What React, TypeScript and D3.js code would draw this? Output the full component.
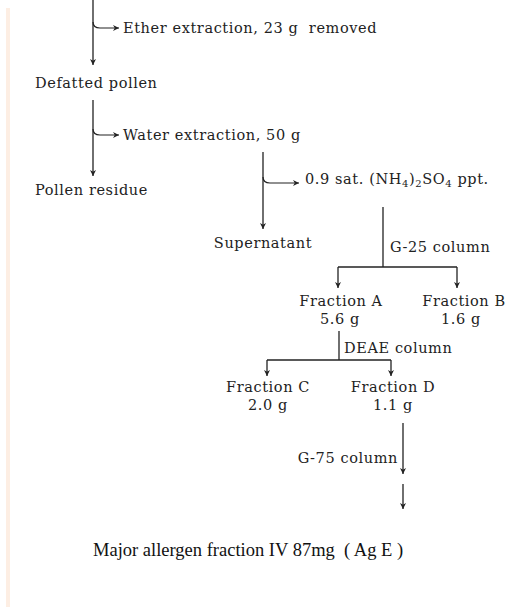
import { useEffect, useRef } from "react";
import * as d3 from "d3";

// ── Flow chart content ──
const products = ["Defatted pollen", "Pollen residue", "Supernatant"];
const extractions = ["Ether extraction, 23 g  removed", "Water extraction, 50 g"];
const precipitation = ["0.9 sat. (NH", "4", ")", "2", "SO", "4", " ppt."];
const columns = ["G-25 column", "DEAE column", "G-75 column"];
const fractions = ["Fraction A", "Fraction B", "Fraction C", "Fraction D"];
const yields = ["5.6 g", "1.6 g", "2.0 g", "1.1 g"];
const finalProduct = "Major allergen fraction IV 87mg  ( Ag E )";

const W = 507;
const H = 607;
const INK = "#222";
const FONT = "'DejaVu Serif', serif";
const SIZE = 14.5;
const SPACING = 0.6;

export default function App() {
  const svgRef = useRef<SVGSVGElement>(null);

  useEffect(() => {
    if (!svgRef.current) return;
    const svg = d3.select(svgRef.current);
    svg.selectAll("*").remove();

    svg
      .append("defs")
      .append("marker")
      .attr("id", "arrow")
      .attr("viewBox", "0 0 10 10")
      .attr("refX", 10)
      .attr("refY", 5)
      .attr("markerWidth", 6)
      .attr("markerHeight", 6)
      .attr("markerUnits", "userSpaceOnUse")
      .attr("orient", "auto")
      .append("path")
      .attr("d", "M0,0 L10,5 L0,10 L3,5 Z")
      .attr("fill", INK);

    svg.append("rect").attr("width", W).attr("height", H).attr("fill", "#fff");
    // faint scan edge on the left
    svg
      .append("rect")
      .attr("x", 6)
      .attr("y", 8)
      .attr("width", 4)
      .attr("height", H - 8)
      .attr("fill", "#fdeee3");

    const g = svg.append("g");

    const arrow = (x1: number, y1: number, x2: number, y2: number) =>
      g
        .append("line")
        .attr("x1", x1)
        .attr("y1", y1)
        .attr("x2", x2)
        .attr("y2", y2)
        .attr("stroke", INK)
        .attr("stroke-width", 1.3)
        .attr("marker-end", "url(#arrow)");

    const line = (x1: number, y1: number, x2: number, y2: number) =>
      g
        .append("line")
        .attr("x1", x1)
        .attr("y1", y1)
        .attr("x2", x2)
        .attr("y2", y2)
        .attr("stroke", INK)
        .attr("stroke-width", 1.3);

    // side branch: curls off a vertical trunk to the right
    const branch = (x: number, y: number, xEnd: number) =>
      g
        .append("path")
        .attr("d", `M${x},${y - 6} Q${x},${y} ${x + 7},${y} L${xEnd},${y}`)
        .attr("fill", "none")
        .attr("stroke", INK)
        .attr("stroke-width", 1.2)
        .attr("marker-end", "url(#arrow)");

    const label = (t: string, x: number, y: number, anchor: string = "start") =>
      g
        .append("text")
        .attr("x", x)
        .attr("y", y)
        .attr("dy", "0.35em")
        .attr("text-anchor", anchor)
        .attr("font-family", FONT)
        .attr("font-size", SIZE)
        .attr("letter-spacing", SPACING)
        .attr("fill", INK)
        .style("white-space", "pre")
        .text(t);

    // ── Stage 1: ether extraction ──
    arrow(93, 0, 93, 65);
    branch(93, 28, 119);
    label(extractions[0], 123, 28);
    label(products[0], 35, 83);

    // ── Stage 2: water extraction ──
    arrow(93, 100, 93, 176);
    branch(93, 135, 119);
    label(extractions[1], 123, 135);
    label(products[1], 35, 190);

    // ── Stage 3: ammonium sulfate ──
    arrow(263, 152, 263, 229);
    branch(263, 183, 299);
    const ppt = g
      .append("text")
      .attr("x", 305)
      .attr("y", 184)
      .attr("dy", "0.35em")
      .attr("font-family", FONT)
      .attr("font-size", SIZE)
      .attr("letter-spacing", SPACING)
      .attr("fill", INK);
    precipitation.forEach((t, i) => {
      const sub = t === "2" || t === "4";
      const prevSub = i > 0 && /^[24]$/.test(precipitation[i - 1]);
      ppt
        .append("tspan")
        .attr("font-size", sub ? 10 : SIZE)
        .attr("dy", sub ? 3 : prevSub ? -3 : 0)
        .text(t);
    });
    label(products[2], 263, 243, "middle");

    // ── G-25 column ──
    line(383, 207, 383, 267);
    label(columns[0], 390, 247);
    line(338, 267, 457, 267);
    arrow(338, 267, 338, 288);
    arrow(457, 267, 457, 288);
    label(fractions[0], 341, 301, "middle");
    label(yields[0], 340, 319, "middle");
    label(fractions[1], 464, 301, "middle");
    label(yields[1], 461, 319, "middle");

    // ── DEAE column ──
    line(339, 331, 339, 360);
    label(columns[1], 344, 348);
    line(267, 360, 391, 360);
    arrow(267, 360, 267, 376);
    arrow(391, 360, 391, 376);
    label(fractions[2], 268, 387, "middle");
    label(yields[2], 268, 405, "middle");
    label(fractions[3], 393, 387, "middle");
    label(yields[3], 393, 405, "middle");

    // ── G-75 column ──
    arrow(403, 423, 403, 474);
    label(columns[2], 398, 458, "end");
    arrow(403, 484, 403, 509);

    g.append("text")
      .attr("x", 93)
      .attr("y", 550)
      .attr("dy", "0.35em")
      .attr("font-family", "'Liberation Serif', 'Times New Roman', serif")
      .attr("font-size", 18.5)
      .attr("fill", "#111")
      .style("white-space", "pre")
      .text(finalProduct);
  }, []);

  return (
    <div style={{ position: "fixed", left: 0, top: 0 }}>
      <svg ref={svgRef} width={W} height={H} style={{ display: "block" }} />
    </div>
  );
}
